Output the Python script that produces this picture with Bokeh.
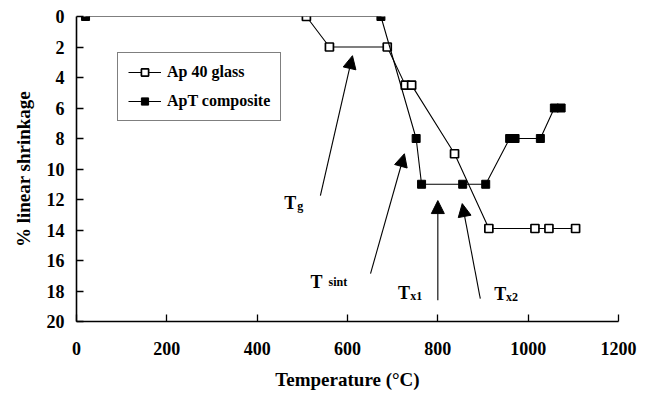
from bokeh.plotting import figure
from bokeh.models import Range1d, Label, Arrow, NormalHead, Legend, LegendItem
from bokeh.embed import file_html
from bokeh.resources import INLINE

# ---- data ----
glass_T = [509, 560, 688, 728, 742, 837, 913, 1015, 1046, 1105]
glass_s = [0, 2, 2, 4.5, 4.5, 9, 13.9, 13.9, 13.9, 13.9]

comp_T = [20, 674, 752, 764, 855, 906, 959, 971, 1027, 1058, 1073]
comp_s = [0, 0, 8, 11, 11, 11, 8, 8, 8, 6, 6]

x_ticks = [0, 200, 400, 600, 800, 1000, 1200]
y_ticks = [0, 2, 4, 6, 8, 10, 12, 14, 16, 18, 20]

# annotation arrows (data units): start x, start y, end x, end y
arr_x0 = [540, 651, 800, 894]
arr_y0 = [11.75, 16.86, 18.6, 18.5]
arr_x1 = [611, 726, 800, 854]
arr_y1 = [2.57, 9.0, 12.07, 12.27]

# annotation labels: main letter + subscript
lab_main = ["T", "T", "T", "T"]
lab_sub = ["g", "sint", "x1", "x2"]
lab_x = [460, 518, 712, 925]
lab_y = [12.2, 17.4, 18.1, 18.2]
sub_x = [489, 558, 739, 951]
sub_y = [12.45, 17.4, 18.35, 18.4]

FONT = "'Liberation Serif', 'Times New Roman', 'DejaVu Serif', serif"

p = figure(width=652, height=394, output_backend="svg", toolbar_location=None,
           x_range=Range1d(0, 1200), y_range=Range1d(20, 0),
           min_border_left=76, min_border_right=34, min_border_top=16,
           min_border_bottom=73, frame_width=542, frame_height=305)
p.outline_line_color = None
p.xgrid.visible = False
p.ygrid.visible = False
p.background_fill_color = "white"
p.border_fill_color = "white"

for ax in (p.xaxis[0], p.yaxis[0]):
    ax.axis_line_color = "black"
    ax.axis_line_width = 1.6
    ax.major_tick_in = 7
    ax.major_tick_out = 0
    ax.minor_tick_in = 4
    ax.minor_tick_out = 0
    ax.major_tick_line_width = 1.3
    ax.minor_tick_line_width = 1.3
    ax.major_label_text_font = FONT
    ax.major_label_text_font_style = "bold"
    ax.major_label_text_font_size = "18px"
    ax.major_label_text_color = "black"
    ax.axis_label_text_font = FONT
    ax.axis_label_text_font_style = "bold"
    ax.axis_label_text_font_size = "19px"
    ax.axis_label_text_color = "black"

p.xaxis.ticker = x_ticks
p.xaxis[0].ticker.num_minor_ticks = 5
p.yaxis.ticker = y_ticks
p.yaxis[0].ticker.num_minor_ticks = 2
p.xaxis.axis_label = "Temperature (°C)"
p.yaxis.axis_label = "% linear shrinkage"
p.xaxis.major_label_standoff = 20
p.xaxis.axis_label_standoff = 11
p.yaxis.major_label_standoff = 12
p.yaxis.axis_label_standoff = 10

# series
gl = p.line(glass_T, glass_s, line_color="black", line_width=1.1)
gs = p.scatter(glass_T, glass_s, marker="square", size=8, fill_color="white",
               line_color="black", line_width=1.7)
cl = p.line(comp_T, comp_s, line_color="black", line_width=1.1)
cs = p.scatter(comp_T, comp_s, marker="square", size=8, fill_color="black",
               line_color="black", line_width=1)

# arrows
for i in range(len(arr_x0)):
    p.add_layout(Arrow(end=NormalHead(size=13, fill_color="black", line_color="black"),
                       x_start=arr_x0[i], y_start=arr_y0[i],
                       x_end=arr_x1[i], y_end=arr_y1[i],
                       line_color="black", line_width=1.1))

for i in range(len(lab_main)):
    p.add_layout(Label(x=lab_x[i], y=lab_y[i], text=lab_main[i], text_font=FONT,
                       text_font_style="bold", text_font_size="18px",
                       text_baseline="alphabetic", text_color="black"))
    p.add_layout(Label(x=sub_x[i], y=sub_y[i], text=lab_sub[i], text_font=FONT,
                       text_font_style="bold", text_font_size="12px",
                       text_baseline="alphabetic", text_color="black"))

legend = Legend(items=[LegendItem(label="Ap 40 glass", renderers=[gl, gs]),
                       LegendItem(label="ApT composite", renderers=[cl, cs])],
                location=(41, 200))
legend.label_text_font = FONT
legend.label_text_font_style = "bold"
legend.label_text_font_size = "16px"
legend.label_text_color = "black"
legend.border_line_color = "black"
legend.border_line_width = 1.2
legend.padding = 10
legend.spacing = 11
legend.glyph_height = 18
legend.label_height = 18
legend.glyph_width = 33
legend.label_standoff = 6
legend.margin = 0
legend.background_fill_alpha = 1
p.add_layout(legend, "center")

open("out.html", "w").write(file_html(p, INLINE))
